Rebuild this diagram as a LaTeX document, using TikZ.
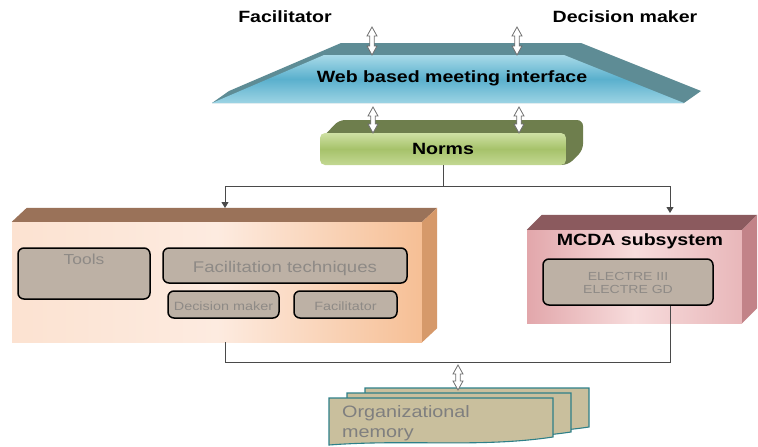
\documentclass[tikz,border=0pt]{standalone}
\usepackage{fontspec}
\setmainfont[FakeStretch=1.2]{Liberation Sans}
\usetikzlibrary{arrows.meta,calc}

\definecolor{webtop}{HTML}{5E8C95}
\definecolor{weblight}{HTML}{A8DAE8}
\definecolor{webmid}{HTML}{5AB0CD}
\definecolor{normstop}{HTML}{6E7E4D}
\definecolor{normslight}{HTML}{CFE1A4}
\definecolor{normsmid}{HTML}{A6C26A}
\definecolor{peachtop}{HTML}{9A7259}
\definecolor{peachside}{HTML}{D6996A}
\definecolor{peachlight}{HTML}{FDEBE0}
\definecolor{peachdark}{HTML}{F6BF95}
\definecolor{pinktop}{HTML}{8B5A5E}
\definecolor{pinkside}{HTML}{C28388}
\definecolor{pinklight}{HTML}{F7DCDC}
\definecolor{pinkdark}{HTML}{E2A7AB}
\definecolor{boxfill}{HTML}{BDB1A5}
\definecolor{boxtext}{HTML}{8E8A86}
\definecolor{memfill}{HTML}{C9BF9D}
\definecolor{memedge}{HTML}{2E8088}
\definecolor{memtext}{HTML}{7F7F7F}
\definecolor{linkgrey}{HTML}{4A4A4A}
\definecolor{arrowedge}{HTML}{707070}

% hollow two-headed arrow from an upper point #1 to a lower point #2
\newcommand{\twoway}[2]{%
  \filldraw[fill=white, draw=arrowedge, line width=0.8pt, line join=miter]
    let \p1=(#1), \p2=(#2) in
    (\x1,\y1) -- (\x1+5pt,\y1-9pt) -- (\x1+2.2pt,\y1-9pt) -- (\x2+2.2pt,\y2+9pt)
    -- (\x2+5pt,\y2+9pt) -- (\x2,\y2) -- (\x2-5pt,\y2+9pt) -- (\x2-2.2pt,\y2+9pt)
    -- (\x1-2.2pt,\y1-9pt) -- (\x1-5pt,\y1-9pt) -- cycle;}

\begin{document}
\begin{tikzpicture}[x=1pt, y=-1pt,
  lbl/.style={font=\fontsize{16.3}{18}\selectfont\bfseries, inner sep=0pt},
  greytext/.style={text=boxtext, inner sep=0pt},
  inbox/.style={draw=black, line width=1.5pt, rounded corners=6pt, fill=boxfill, inner sep=0pt},
  link/.style={draw=linkgrey, line width=0.9pt},
  tip/.style={-{Triangle[width=7pt,length=6pt]}},
  memdoc/.style={fill=memfill, draw=memedge, line width=1.1pt}]
\useasboundingbox (0,0) rectangle (758,447);

% Web based meeting interface (extruded trapezium)
\fill[webtop] (212,103) -- (229,91) -- (341,43) -- (581,43) -- (701,91) -- (684,103) -- cycle;
\shade[top color=weblight, bottom color=weblight!85!webmid, middle color=webmid]
  (212,103) -- (324,55) -- (564,55) -- (684,103) -- cycle;
\node[lbl, anchor=base] (web) at (452,82) {Web based meeting interface};

% Norms bar
\fill[normstop, rounded corners=6pt] (322,160) -- (322,138) -- (339,120) -- (583,120) -- (583,150) -- (568,165) -- cycle;
\node[lbl, rounded corners=5pt, minimum width=246, minimum height=32,
  top color=normslight, bottom color=normslight!70!normsmid, middle color=normsmid] (norms) at (443,149) {Norms};

% facilitation block
\node[minimum width=410, minimum height=120, inner sep=0pt,
  left color=peachlight!80!peachdark, right color=peachdark, middle color=peachlight] (collab) at (217,282) {};
\fill[peachtop] (collab.north west) -- ++(15,-14) -- ([shift={(15,-14)}]collab.north east) -- (collab.north east) -- cycle;
\fill[peachside] (collab.north east) -- ++(15,-14) -- ([shift={(15,-14)}]collab.south east) -- (collab.south east) -- cycle;

\node[inbox, minimum width=132, minimum height=51] (tools) at (84,273.5) {};
\node[greytext, font=\fontsize{14.5}{16}\selectfont, anchor=base] (toolsname) at (84,264) {Tools};
\node[inbox, minimum width=244, minimum height=35] (techniques) at (285,265.5) {};
\node[greytext, font=\fontsize{15.5}{17}\selectfont, anchor=base] (techname) at (285,272) {Facilitation techniques};
\node[inbox, minimum width=111, minimum height=27] (dmrole) at (223.5,304.5) {};
\node[greytext, font=\fontsize{12}{14}\selectfont, anchor=base] (dmname) at (223.5,310) {Decision maker};
\node[inbox, minimum width=103, minimum height=27] (facrole) at (345.5,304.5) {};
\node[greytext, font=\fontsize{12}{14}\selectfont, anchor=base] (facname) at (345.5,310) {Facilitator};

% MCDA block
\node[minimum width=215, minimum height=93, inner sep=0pt,
  left color=pinkdark, right color=pinkdark!70!pinklight, middle color=pinklight] (mcda) at (634.5,276.5) {};
\fill[pinktop] (mcda.north west) -- ++(15,-15) -- ([shift={(15,-15)}]mcda.north east) -- (mcda.north east) -- cycle;
\fill[pinkside] (mcda.north east) -- ++(15,-15) -- ([shift={(15,-15)}]mcda.south east) -- (mcda.south east) -- cycle;
\node[lbl, anchor=base] (mcdaname) at (640,245) {MCDA subsystem};
\node[inbox, minimum width=170, minimum height=46] (electre) at (628,282) {};
\node[greytext, align=center, font=\fontsize{11.7}{12.5}\selectfont] (methods) at (628,283) {ELECTRE III\\ELECTRE GD};

% connectors
\coordinate (split) at (443,186);
\coordinate (toolsin) at (225,208);
\coordinate (mcdain) at (670,213);
\draw[link] (norms.south) -- (split);
\draw[link, tip] (split) -| (toolsin);
\draw[link, tip] (split) -| (mcdain);

\coordinate (lfork) at (225,362);
\coordinate (rfork) at (670,362);
\draw[link] (lfork |- collab.south) -- (lfork) -- (rfork) -- (rfork |- electre.south);

% organizational memory stack
\foreach \dx/\dy in {36/-10,18/-5,0/0}{
  \begin{scope}[shift={(329+\dx,398+\dy)}]
    \draw[memdoc] (0,0) -- (224,0) -- (224,39) .. controls (150,50) and (80,41) .. (0,47) -- cycle;
  \end{scope}
}
\node[text=memtext, inner sep=0pt, anchor=north west, align=left,
  font=\fontsize{16.5}{20}\selectfont] (orgmem) at (342,405) {Organizational\\memory};

% two-way arrows
\coordinate (facup) at (372,27);   \coordinate (facdown) at (372,55);
\coordinate (dmup) at (517,27);    \coordinate (dmdown) at (517,55);
\coordinate (facin) at (373,107);  \coordinate (facout) at (373,133);
\coordinate (dmin) at (519,107);   \coordinate (dmout) at (519,133);
\coordinate (memup) at (458,365);  \coordinate (memdown) at (458,390);
\twoway{facup}{facdown}
\twoway{dmup}{dmdown}
\twoway{facin}{facout}
\twoway{dmin}{dmout}
\twoway{memup}{memdown}

% roles on top
\node[lbl, anchor=base] (facilitator) at (285,23) {Facilitator};
\node[lbl, anchor=base] (decisionmaker) at (625,23) {Decision maker};
\end{tikzpicture}
\end{document}
